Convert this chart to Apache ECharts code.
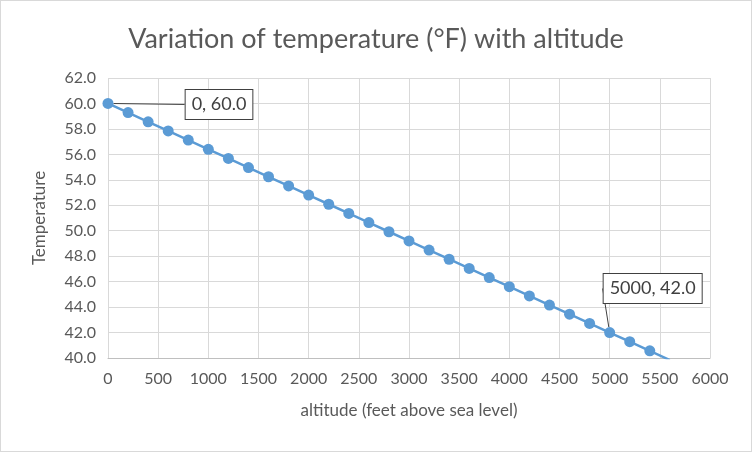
<!DOCTYPE html>
<html><head><meta charset="utf-8">
<script src="https://cdn.jsdelivr.net/npm/echarts@6/dist/echarts.min.js"></script>
<style>html,body{margin:0;padding:0;background:#fff}#c{width:750px;height:450px;border:1px solid #d9d9d9}</style>
</head><body><div id="c"></div>
<script>
const altitudes = [0,200,400,600,800,1000,1200,1400,1600,1800,2000,2200,2400,2600,2800,3000,3200,3400,3600,3800,4000,4200,4400,4600,4800,5000,5200,5400,5600];
const temperatures = [60.0,59.28,58.56,57.84,57.12,56.4,55.68,54.96,54.24,53.52,52.8,52.08,51.36,50.64,49.92,49.2,48.48,47.76,47.04,46.32,45.6,44.88,44.16,43.44,42.72,42.0,41.28,40.56,39.84];
const labelledAltitudes = [0, 5000];
const titleText = 'Variation of temperature (°F) with altitude';
const xName = 'altitude (feet above sea level)';
const yName = 'Temperature';
const FONT = 'Lato, "Open Sans", sans-serif';

const data = altitudes.map((a, i) => {
  const item = { value: [a, temperatures[i]] };
  if (labelledAltitudes.includes(a)) {
    item.label = { show: true };
    item.labelLine = { show: true };
  }
  return item;
});

const chart = echarts.init(document.getElementById('c'));
chart.setOption({
  animation: false,
  title: { text: titleText, left: 'center', top: 20,
    textStyle: { fontFamily: FONT, fontSize: 27, fontWeight: 'normal', color: '#595959' } },
  grid: { left: 107, right: 41, top: 77, bottom: 93, containLabel: false },
  xAxis: {
    type: 'value', min: 0, max: 6000, interval: 500,
    name: xName, nameLocation: 'middle', nameGap: 44,
    nameTextStyle: { fontFamily: FONT, fontSize: 17, color: '#595959' },
    axisLine: { show: true, lineStyle: { color: '#bfbfbf' } },
    axisTick: { show: false },
    axisLabel: { fontFamily: FONT, fontSize: 16, color: '#595959', margin: 13,
      formatter: v => String(v) },
    splitLine: { show: true, lineStyle: { color: '#d9d9d9' } }
  },
  yAxis: {
    type: 'value', min: 40, max: 62, interval: 2,
    name: yName, nameLocation: 'middle', nameGap: 60, nameRotate: 90,
    nameTextStyle: { fontFamily: FONT, fontSize: 17, color: '#595959' },
    axisLine: { show: false }, axisTick: { show: false },
    axisLabel: { fontFamily: FONT, fontSize: 16, color: '#595959', margin: 12,
      formatter: v => v.toFixed(1) },
    splitLine: { show: true, lineStyle: { color: '#d9d9d9' } }
  },
  series: [{
    type: 'line',
    data: data,
    symbol: 'circle', symbolSize: 11,
    showAllSymbol: true,
    clip: true,
    lineStyle: { color: '#5b9bd5', width: 2.5 },
    itemStyle: { color: '#5b9bd5' },
    label: {
      show: false, position: 'inside',
      formatter: p => p.value[0] + ', ' + p.value[1].toFixed(1),
      fontFamily: FONT, fontSize: 18, color: '#404040',
      backgroundColor: '#fff', borderColor: '#404040', borderWidth: 1,
      padding: [6, 6, 5, 6]
    },
    labelLine: { show: false, lineStyle: { color: '#404040', width: 1 } },
    labelLayout: p => {
      if (p.dataIndex === 0) return { dx: 111, dy: 1 };
      return { dx: 43, dy: -44 };
    }
  }]
});
</script></body></html>
